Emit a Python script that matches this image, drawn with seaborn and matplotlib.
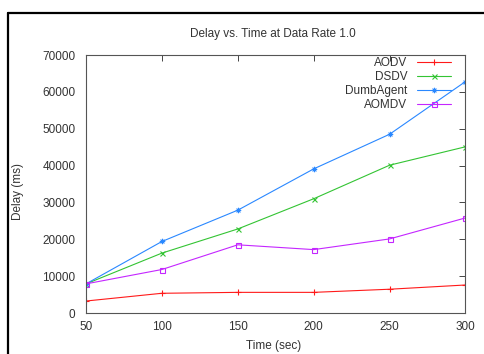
import numpy as np
import pandas as pd
import matplotlib
matplotlib.use("Agg")
import matplotlib.pyplot as plt
from matplotlib.path import Path
from matplotlib.lines import Line2D
import seaborn as sns

# ---- data ----
times = [50, 100, 150, 200, 250, 300]
aodv = [3250, 5350, 5600, 5600, 6450, 7600]
dsdv = [7900, 16250, 22800, 31000, 40100, 45100]
dumbagent = [7900, 19400, 27900, 39100, 48500, 62800]
aomdv = [7900, 11800, 18500, 17200, 20100, 25800]
series_names = ["AODV", "DSDV", "DumbAgent", "AOMDV"]
title = "Delay vs. Time at Data Rate 1.0"
xlabel = "Time (sec)"
ylabel = "Delay (ms)"
xticks = [50, 100, 150, 200, 250, 300]
yticks = [0, 10000, 20000, 30000, 40000, 50000, 60000, 70000]

df = pd.DataFrame({
    "time": times * 4,
    "delay": aodv + dsdv + dumbagent + aomdv,
    "protocol": sum([[n] * len(times) for n in series_names], []),
})

sns.set_theme(style="white")
plt.rcParams["font.family"] = ["Liberation Sans", "DejaVu Sans"]

W, H, DPI = 485, 354, 100
fig = plt.figure(figsize=(W / DPI, H / DPI), dpi=DPI)
fig.patch.set_facecolor("white")

L, R, T, B = 86, 465.5, 55, 313
ax = fig.add_axes([L / W, 1 - B / H, (R - L) / W, (B - T) / H])

# asterisk marker (+ and x combined)
s = 0.7
star_path = Path(
    [(-1, 0), (1, 0), (0, -1), (0, 1), (-s, -s), (s, s), (-s, s), (s, -s)],
    [Path.MOVETO, Path.LINETO] * 4,
)

styles = {
    "AODV": dict(color="#ff1a1a", marker="+", ms=4.5),
    "DSDV": dict(color="#33c433", marker="x", ms=3.6),
    "DumbAgent": dict(color="#2a88ff", marker=star_path, ms=4.0),
    "AOMDV": dict(color="#c426ff", marker="s", ms=3.6),
}

handles = []
for name in series_names:
    st = styles[name]
    sub = df[df["protocol"] == name]
    sns.lineplot(data=sub, x="time", y="delay", ax=ax, color=st["color"],
                 marker=st["marker"], markersize=st["ms"], markerfacecolor="none",
                 markeredgecolor=st["color"], markeredgewidth=0.8,
                 linewidth=0.8, legend=False, errorbar=None)
    handles.append(Line2D([], [], color=st["color"], marker=st["marker"],
                          markersize=st["ms"], markerfacecolor="none",
                          markeredgecolor=st["color"], markeredgewidth=0.8,
                          linewidth=0.8))

ax.set_xlim(50, 300)
ax.set_ylim(0, 70000)
ax.set_xticks(xticks)
ax.set_yticks(yticks)
ax.set_xticklabels([str(v) for v in xticks])
ax.set_yticklabels([str(v) for v in yticks])
ax.set_xlabel("")
ax.set_ylabel("")
ax.tick_params(direction="in", top=True, right=True, length=4, width=0.7,
               color="#444444", labelsize=8.5, labelcolor="#333333")
ax.tick_params(axis="y", pad=7.5)
ax.tick_params(axis="x", pad=6)
for sp in ax.spines.values():
    sp.set_color("#555555")
    sp.set_linewidth(0.8)
ax.grid(False)

leg = ax.legend(handles, series_names, loc="upper right", markerfirst=False,
                frameon=False, fontsize=8.5, numpoints=1, handlelength=2.9,
                handletextpad=0.85, labelspacing=0.18,
                bbox_to_anchor=((451.5 - L) / (R - L), 1 - (57 - T) / (B - T)),
                borderaxespad=0, borderpad=0)
for t in leg.get_texts():
    t.set_color("#333333")

fig.text(273 / W, 1 - 34 / H, title, ha="center", va="center", fontsize=8.5, color="#333333")
fig.text(274 / W, 1 - 346 / H, xlabel, ha="center", va="center", fontsize=8.5, color="#333333")
fig.text(18 / W, 1 - 192 / H, ylabel, ha="center", va="center", rotation=90, fontsize=8.5, color="#333333")

# outer screenshot frame
fig.add_artist(Line2D([8 / W, 8 / W], [0, 1 - 13 / H], color="black", linewidth=1.6,
                      transform=fig.transFigure))
fig.add_artist(Line2D([8 / W, 1], [1 - 13 / H, 1 - 13 / H], color="black", linewidth=1.6,
                      transform=fig.transFigure))

fig.savefig("out.png", dpi=DPI)
